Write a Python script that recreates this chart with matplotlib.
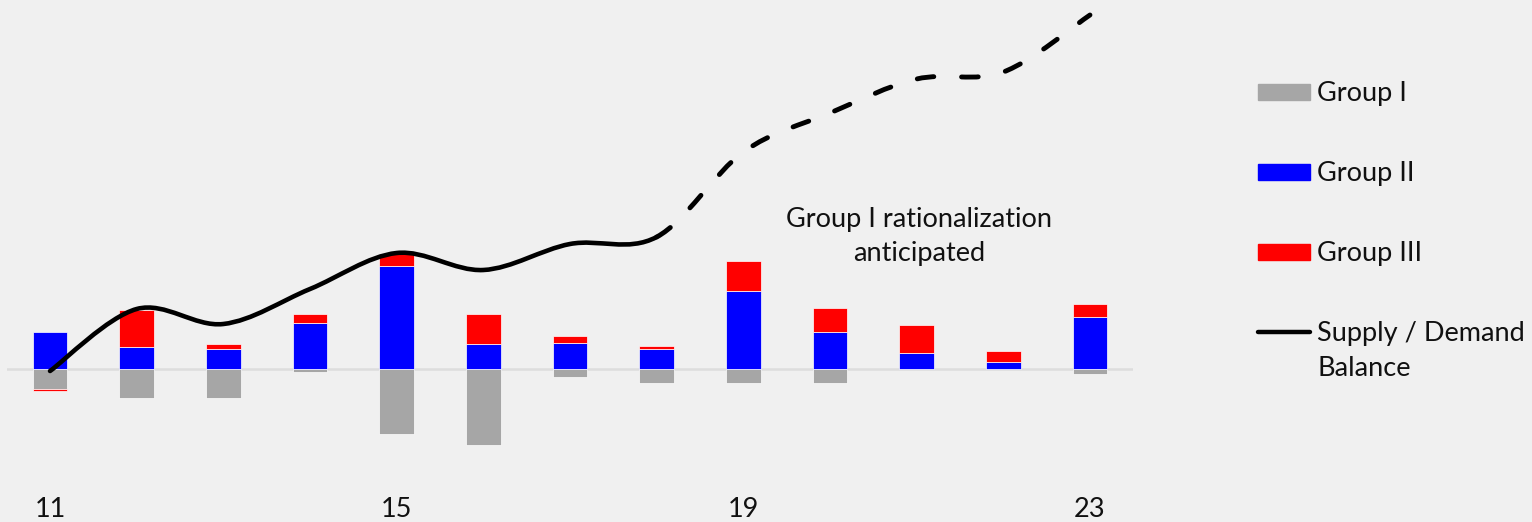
import numpy as np
import matplotlib
matplotlib.use("Agg")
import matplotlib.pyplot as plt
from matplotlib.path import Path
from matplotlib.patches import PathPatch, Rectangle

# chart data
years = list(range(11, 24))
tick_years = [11, 15, 19, 23]
group1 = [-2.0, -2.9, -2.9, -0.3, -6.5, -7.6, -0.8, -1.4, -1.4, -1.4, 0.0, 0.0, -0.5]
group2 = [3.7, 2.2, 2.0, 4.6, 10.3, 2.5, 2.6, 2.0, 7.8, 3.7, 1.6, 0.7, 5.2]
group3 = [-0.2, 3.7, 0.5, 0.9, 1.2, 3.0, 0.7, 0.3, 3.0, 2.4, 2.8, 1.1, 1.3]
balance = [-0.2, 6.0, 4.5, 8.0, 11.6, 9.9, 12.5, 13.2, 21.7, 25.6, 29.0, 29.7, 35.4]
forecast_from = 18

series = [("Group I", group1, "#a6a6a6"),
          ("Group II", group2, "#0000ff"),
          ("Group III", group3, "#ff0000")]

plt.rcParams['font.family'] = ['Lato', 'DejaVu Sans']
plt.rcParams['lines.scale_dashes'] = False
bg = "#f0f0f0"
fs = 19.5

W, H = 1532, 522
fig = plt.figure(figsize=(W / 100, H / 100), dpi=100, facecolor=bg)
ax = fig.add_axes([6.7 / W, 32 / H, 1126.6 / W, 490 / H])
ax.set_facecolor(bg)
ax.set_xlim(10.5, 23.5)
ax.set_ylim(-12.1, 36.9)

ax.axhline(0, color="#dddddd", lw=1.8, zorder=1)

# stacked bars, positives and negatives stacked separately
pos = np.zeros(len(years))
neg = np.zeros(len(years))
for name, vals, col in series:
    v = np.array(vals)
    bottom = np.where(v >= 0, pos, neg)
    ax.bar(years, v, width=0.4, bottom=bottom, color=col, edgecolor="white",
           linewidth=0.5, zorder=2)
    pos += np.where(v >= 0, v, 0)
    neg += np.where(v < 0, v, 0)


# smoothed line (bezier segments through the points)
def bezier_segments(x, y):
    pts = np.column_stack([x, y]).astype(float)
    ext = np.vstack([pts[0], pts, pts[-1]])
    segs = []
    for i in range(len(pts) - 1):
        p0, p1, p2, p3 = ext[i], ext[i + 1], ext[i + 2], ext[i + 3]
        segs.append((p1, p1 + (p2 - p0) / 6, p2 - (p3 - p1) / 6, p2))
    return segs


def make_path(segs):
    verts = [segs[0][0]]
    codes = [Path.MOVETO]
    for s in segs:
        verts += [s[1], s[2], s[3]]
        codes += [Path.CURVE4] * 3
    return Path(verts, codes)


segs = bezier_segments(years, balance)
k = years.index(forecast_from)
solid = PathPatch(make_path(segs[:k]), fill=False, color="black", lw=3.3,
                  capstyle="round", joinstyle="round", zorder=3)
dashed = PathPatch(make_path(segs[k:]), fill=False, color="black", lw=3.5,
                   linestyle=(0, (12, 20)), capstyle="round", joinstyle="round", zorder=3)
ax.add_patch(solid)
ax.add_patch(dashed)

ax.text(21.03, 13.2, "Group I rationalization\nanticipated", ha="center", va="center",
        fontsize=fs, linespacing=1.45, color="#111111")

ax.set_xticks(tick_years)
ax.set_xticklabels([str(t) for t in tick_years], fontsize=fs, color="#111111")
ax.tick_params(axis="x", length=0, pad=5)
ax.set_yticks([])
for sp in ax.spines.values():
    sp.set_visible(False)

# legend drawn in figure pixel space
leg = fig.add_axes([0, 0, 1, 1], facecolor="none")
leg.set_xlim(0, W)
leg.set_ylim(H, 0)
leg.axis("off")
rows = [92, 172, 252]
for (name, vals, col), yc in zip(series, rows):
    leg.add_patch(Rectangle((1258, yc - 8), 52, 16, color=col))
    leg.text(1317, yc + 1.5, name, va="center", ha="left", fontsize=fs, color="#111111")
leg.plot([1258, 1310], [332, 332], color="black", lw=3.2, solid_capstyle="round")
leg.text(1317, 333.5, "Supply / Demand", va="center", ha="left", fontsize=fs, color="#111111")
leg.text(1317, 368.5, "Balance", va="center", ha="left", fontsize=fs, color="#111111")

fig.savefig("out.png", dpi=100, facecolor=bg)
